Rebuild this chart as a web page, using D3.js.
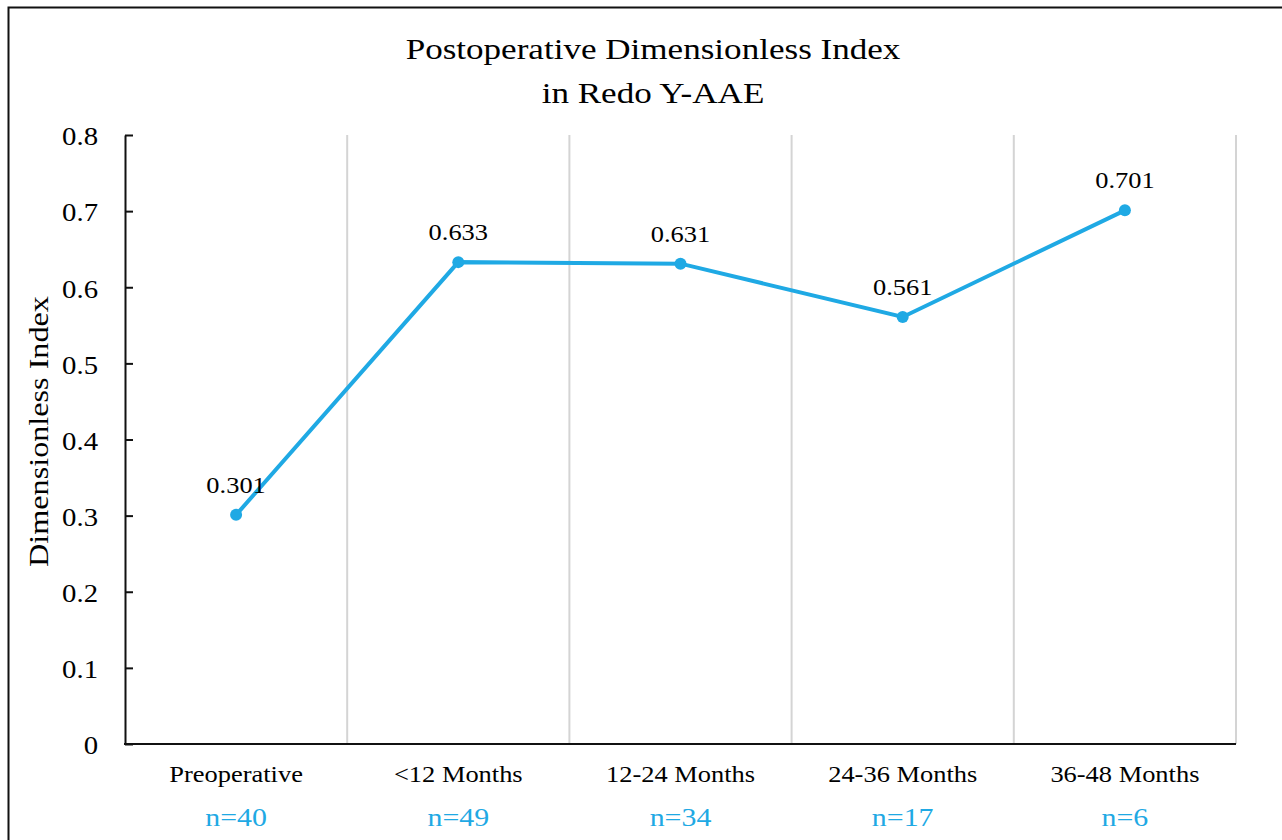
<!DOCTYPE html>
<html>
<head>
<meta charset="utf-8">
<script src="https://cdn.jsdelivr.net/npm/d3@7/dist/d3.min.js"></script>
<style>
  body { margin: 0; background: #fff; }
  text { font-family: "Liberation Serif", "Times New Roman", serif; fill: #000; }
</style>
</head>
<body>
<div id="chart"></div>
<script>
const categories = ['Preoperative', '<12 Months', '12-24 Months', '24-36 Months', '36-48 Months'];
const values = [0.301, 0.633, 0.631, 0.561, 0.701];
const counts = ['n=40', 'n=49', 'n=34', 'n=17', 'n=6'];
const yTicks = [0, 0.1, 0.2, 0.3, 0.4, 0.5, 0.6, 0.7, 0.8];

const width = 1282;
const height = 840;
const plotLeft = 125, plotRight = 1236, plotTop = 135, plotBottom = 744;
const blue = '#1fa9e4';
const stretch = 1.15; // source text is a bit wide along its reading direction

const svg = d3.select('#chart')
  .append('svg')
  .attr('width', width)
  .attr('height', height)

// outer frame
svg.append('rect')
  .attr('x', 8.5)
  .attr('y', 7.5)
  .attr('width', 1300)
  .attr('height', 900)
  .attr('fill', 'none')
  .attr('stroke', '#111')
  .attr('stroke-width', 2)

const xScale = d3.scaleBand()
  .domain(categories)
  .range([plotLeft, plotRight])

const yScale = d3.scaleLinear()
  .domain([0, 0.8])
  .range([plotBottom, plotTop])

const cx = (d) => xScale(d) + xScale.bandwidth() / 2

// vertical gridlines at category boundaries
svg.selectAll('.grid')
  .data(categories)
  .enter()
  .append('line')
  .attr('class', 'grid')
  .attr('x1', (d) => xScale(d) + xScale.bandwidth())
  .attr('x2', (d) => xScale(d) + xScale.bandwidth())
  .attr('y1', plotTop)
  .attr('y2', plotBottom)
  .attr('stroke', '#d4d4d4')
  .attr('stroke-width', 2)

const yAxis = d3.axisRight(yScale)
  .tickValues(yTicks)
  .tickSize(8)
  .tickSizeOuter(0)
  .tickFormat((d) => d === 0 ? '0' : d3.format('.1f')(d))

const yg = svg.append('g')
  .attr('transform', `translate(${plotLeft}, 0)`)
  .call(yAxis)

yg.select('.domain').attr('stroke', '#111').attr('stroke-width', 2)
yg.selectAll('.tick line').attr('stroke', '#111').attr('stroke-width', 2)
yg.selectAll('.tick text')
  .attr('x', 0)
  .attr('transform', `translate(-27, 1) scale(${stretch}, 1)`)
  .attr('text-anchor', 'end')
  .attr('dy', '0.35em')
  .style('font-size', '25px')

// x axis line
svg.append('line')
  .attr('x1', plotLeft - 1)
  .attr('x2', plotRight)
  .attr('y1', plotBottom)
  .attr('y2', plotBottom)
  .attr('stroke', '#111')
  .attr('stroke-width', 2)

svg.selectAll('.xlabel')
  .data(categories)
  .enter()
  .append('text')
  .attr('class', 'xlabel')
  .attr('transform', (d) => `translate(${cx(d)}, 782) scale(${stretch}, 1)`)
  .attr('text-anchor', 'middle')
  .style('font-size', '23px')
  .text((d) => d)

svg.selectAll('.nlabel')
  .data(categories)
  .enter()
  .append('text')
  .attr('class', 'nlabel')
  .attr('transform', (d) => `translate(${cx(d)}, 826) scale(${stretch}, 1)`)
  .attr('text-anchor', 'middle')
  .style('font-size', '26px')
  .style('fill', blue)
  .text((d, i) => counts[i])

const line = d3.line()
  .x((d, i) => cx(categories[i]))
  .y((d) => yScale(d))

svg.append('path')
  .datum(values)
  .attr('d', line)
  .attr('fill', 'none')
  .attr('stroke', blue)
  .attr('stroke-width', 4)

svg.selectAll('.dot')
  .data(values)
  .enter()
  .append('circle')
  .attr('class', 'dot')
  .attr('cx', (d, i) => cx(categories[i]))
  .attr('cy', (d) => yScale(d))
  .attr('r', 6)
  .attr('fill', blue)

svg.selectAll('.vlabel')
  .data(values)
  .enter()
  .append('text')
  .attr('class', 'vlabel')
  .attr('transform', (d, i) => `translate(${cx(categories[i])}, ${yScale(d) - 22}) scale(${stretch}, 1)`)
  .attr('text-anchor', 'middle')
  .style('font-size', '23px')
  .text((d) => d3.format('.3f')(d))

svg.append('text')
  .attr('transform', `translate(653, 59) scale(${stretch}, 1)`)
  .attr('text-anchor', 'middle')
  .style('font-size', '30.5px')
  .text('Postoperative Dimensionless Index')

svg.append('text')
  .attr('transform', `translate(653, 103) scale(${stretch}, 1)`)
  .attr('text-anchor', 'middle')
  .style('font-size', '30.5px')
  .text('in Redo Y-AAE')

svg.append('text')
  .attr('transform', `translate(48, ${(plotTop + plotBottom) / 2 - 8}) rotate(-90) scale(${stretch}, 1)`)
  .attr('text-anchor', 'middle')
  .style('font-size', '28px')
  .text('Dimensionless Index')
</script>
</body>
</html>
